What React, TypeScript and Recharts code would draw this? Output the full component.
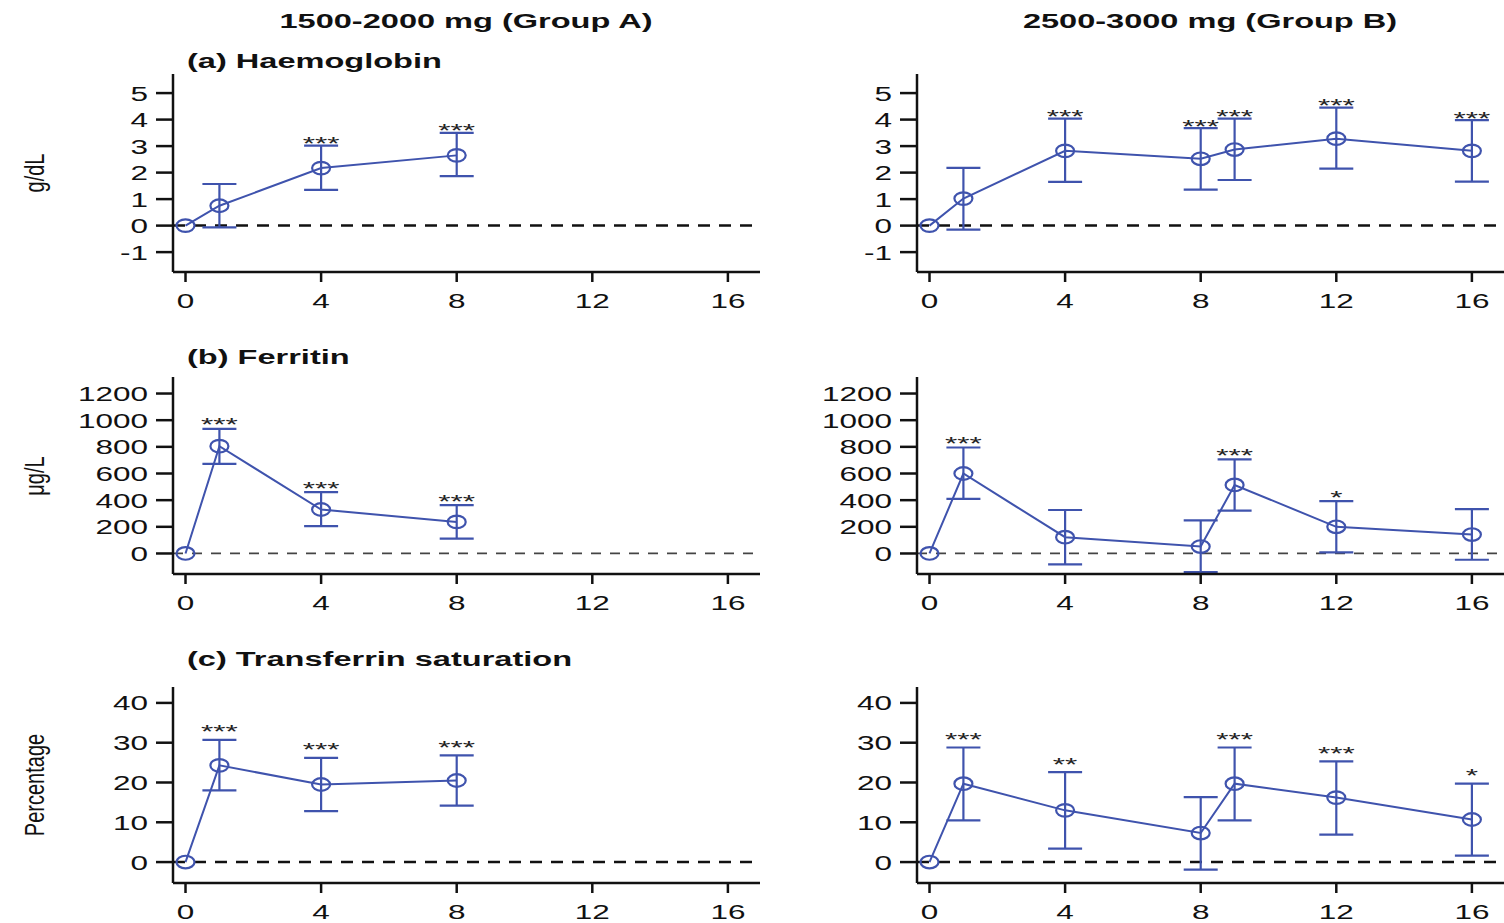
import React from "react";
import { ComposedChart, Line, XAxis, YAxis, ErrorBar, ReferenceLine } from "recharts";

// weeks after infusion
const WEEKS_A = [0, 1, 4, 8];
const WEEKS_B = [0, 1, 4, 8, 9, 12, 16];
const X_TICKS = [0, 4, 8, 12, 16];

const HB_TICKS = [-1, 0, 1, 2, 3, 4, 5];
const FER_TICKS = [0, 200, 400, 600, 800, 1000, 1200];
const TSAT_TICKS = [0, 10, 20, 30, 40];

// (a) Haemoglobin, change from baseline (g/dL)
const HB_A_MEAN = [0, 0.75, 2.17, 2.65];
const HB_A_LO = [null, -0.07, 1.35, 1.87];
const HB_A_HI = [null, 1.57, 3.02, 3.5];
const HB_A_SIG = ["", "", "***", "***"];

const HB_B_MEAN = [0, 1.02, 2.82, 2.52, 2.87, 3.28, 2.82];
const HB_B_LO = [null, -0.15, 1.65, 1.36, 1.72, 2.15, 1.66];
const HB_B_HI = [null, 2.18, 4.04, 3.68, 4.04, 4.45, 3.98];
const HB_B_SIG = ["", "", "***", "***", "***", "***", "***"];

// (b) Ferritin (µg/L)
const FER_A_MEAN = [0, 805, 330, 237];
const FER_A_LO = [null, 672, 205, 112];
const FER_A_HI = [null, 935, 460, 362];
const FER_A_SIG = ["", "***", "***", "***"];

const FER_B_MEAN = [0, 600, 122, 52, 514, 200, 142];
const FER_B_LO = [null, 410, -82, -140, 322, 8, -47];
const FER_B_HI = [null, 795, 326, 248, 706, 393, 333];
const FER_B_SIG = ["", "***", "", "", "***", "*", ""];

// (c) Transferrin saturation (%)
const TSAT_A_MEAN = [0, 24.3, 19.5, 20.5];
const TSAT_A_LO = [null, 18.0, 12.8, 14.2];
const TSAT_A_HI = [null, 30.7, 26.2, 26.8];
const TSAT_A_SIG = ["", "***", "***", "***"];

const TSAT_B_MEAN = [0, 19.7, 13.0, 7.3, 19.7, 16.2, 10.7];
const TSAT_B_LO = [null, 10.5, 3.4, -1.9, 10.5, 6.9, 1.6];
const TSAT_B_HI = [null, 28.8, 22.6, 16.3, 28.8, 25.3, 19.7];
const TSAT_B_SIG = ["", "***", "**", "", "***", "***", "*"];

const BLUE = "#3f53ad";
const INK = "#111";
const FONT = "Arial, 'Liberation Sans', Helvetica, sans-serif";
const SX = 1.5; // the source figure is stretched sideways
const Y_W = 60;
const MT = 40;
const XH = 45;
const X_DOMAIN: [number, number] = [-0.369, 16.947];

function rows(weeks, mean, lo, hi, sig) {
  return weeks.map((w, i) => ({
    w,
    mean: mean[i],
    err: lo[i] == null ? null : [mean[i] - lo[i], hi[i] - mean[i]],
    hi: hi[i],
    sig: sig[i],
  }));
}

function WText({ x, y, anchor = "middle", size = 21, weight = 400, fill = INK, sx = SX, rotate = 0, children }: any) {
  const rot = rotate ? ` rotate(${rotate})` : "";
  return (
    <text
      transform={`translate(${x} ${y}) scale(${sx} 1)${rot}`}
      textAnchor={anchor}
      fontSize={size}
      fontWeight={weight}
      fontFamily={FONT}
      fill={fill}
    >
      {children}
    </text>
  );
}

const COLS = [
  { left: 0, width: 760, plotLeft: 173 },
  { left: 760, width: 744, plotLeft: 917 },
];

const ROWS = [
  { plotTop: 74, plotBottom: 272, domain: [-1.75, 5.72], ticks: HB_TICKS, dash: "12 9", dashW: 2.5, dashC: INK, starShift: 4.5 },
  { plotTop: 377, plotBottom: 574, domain: [-154, 1324], ticks: FER_TICKS, dash: "10 9", dashW: 1.8, dashC: "#444", starShift: 2.5 },
  { plotTop: 687, plotBottom: 883, domain: [-5.26, 44.0], ticks: TSAT_TICKS, dash: "12 9", dashW: 2.5, dashC: INK, starShift: -1.5 },
];

const DATA = [
  [rows(WEEKS_A, HB_A_MEAN, HB_A_LO, HB_A_HI, HB_A_SIG), rows(WEEKS_B, HB_B_MEAN, HB_B_LO, HB_B_HI, HB_B_SIG)],
  [rows(WEEKS_A, FER_A_MEAN, FER_A_LO, FER_A_HI, FER_A_SIG), rows(WEEKS_B, FER_B_MEAN, FER_B_LO, FER_B_HI, FER_B_SIG)],
  [rows(WEEKS_A, TSAT_A_MEAN, TSAT_A_LO, TSAT_A_HI, TSAT_A_SIG), rows(WEEKS_B, TSAT_B_MEAN, TSAT_B_LO, TSAT_B_HI, TSAT_B_SIG)],
];

function Panel({ row, col, data }: any) {
  const r = ROWS[row];
  const c = COLS[col];
  const height = r.plotBottom - r.plotTop + MT + XH;
  const mLeft = c.plotLeft - c.left - Y_W;
  const xBase = MT + (r.plotBottom - r.plotTop) + 36;
  const yRight = mLeft + Y_W - 25;

  const marker = (p: any) => {
    if (p.cy == null) return <g key={`m${p.index}`} />;
    return <ellipse key={`m${p.index}`} cx={p.cx} cy={p.cy} rx={9} ry={6.3} fill="none" stroke={BLUE} strokeWidth={2.2} />;
  };
  const stars = (p: any) => {
    if (p.cy == null || !p.payload.sig) return <g key={`s${p.index}`} />;
    return (
      <WText key={`s${p.index}`} x={p.cx} y={p.cy + r.starShift} size={18} sx={1.75} fill="#222">
        {p.payload.sig}
      </WText>
    );
  };

  return (
    <div style={{ position: "absolute", left: c.left, top: r.plotTop - MT }}>
      <ComposedChart width={c.width} height={height} data={data} margin={{ top: MT, right: 0, bottom: 0, left: mLeft }}>
        <XAxis
          dataKey="w"
          type="number"
          domain={X_DOMAIN}
          ticks={X_TICKS}
          interval={0}
          allowDataOverflow
          height={XH}
          axisLine={{ stroke: INK, strokeWidth: 2.5 }}
          tickLine={{ stroke: INK, strokeWidth: 2.5 }}
          tickSize={10}
          tick={(p: any) => (
            <WText key={`x${p.index}`} x={p.x} y={xBase}>
              {p.payload.value}
            </WText>
          )}
        />
        <YAxis
          type="number"
          domain={r.domain}
          ticks={r.ticks}
          interval={0}
          allowDataOverflow
          width={Y_W}
          axisLine={{ stroke: INK, strokeWidth: 2.5 }}
          tickLine={{ stroke: INK, strokeWidth: 2.5 }}
          tickSize={17}
          tick={(p: any) => (
            <WText key={`y${p.index}`} x={yRight} y={p.y + 7.5} anchor="end">
              {p.payload.value}
            </WText>
          )}
        />
        <ReferenceLine y={0} stroke={r.dashC} strokeWidth={r.dashW} strokeDasharray={r.dash} />
        <Line
          type="linear"
          dataKey="mean"
          stroke={BLUE}
          strokeWidth={2}
          dot={marker}
          activeDot={false}
          isAnimationActive={false}
        >
          <ErrorBar dataKey="err" direction="y" width={17} stroke={BLUE} strokeWidth={2.2} />
        </Line>
        <Line
          type="linear"
          dataKey="hi"
          stroke="none"
          dot={stars}
          activeDot={false}
          isAnimationActive={false}
        />
      </ComposedChart>
    </div>
  );
}

export default function App() {
  return (
    <div style={{ position: "absolute", left: 0, top: 0, width: 1504, height: 923, background: "#fff", overflow: "hidden" }}>
      {[0, 1, 2].map((row) =>
        [0, 1].map((col) => <Panel key={`${row}-${col}`} row={row} col={col} data={DATA[row][col]} />)
      )}
      <svg width={1504} height={923} style={{ position: "absolute", left: 0, top: 0, pointerEvents: "none" }}>
        <WText x={466} y={28} weight={700} sx={1.55}>1500-2000 mg (Group A)</WText>
        <WText x={1210} y={28} weight={700} sx={1.55}>2500-3000 mg (Group B)</WText>
        <WText x={187} y={68} anchor="start" weight={700} sx={1.55}>(a) Haemoglobin</WText>
        <WText x={187} y={364} anchor="start" weight={700} sx={1.55}>(b) Ferritin</WText>
        <WText x={187} y={666} anchor="start" weight={700} sx={1.55}>(c) Transferrin saturation</WText>
        <WText x={44} y={173} size={20} sx={1.4} rotate={-90}>g/dL</WText>
        <WText x={44} y={476} size={20} sx={1.4} rotate={-90}>μg/L</WText>
        <WText x={44} y={785} size={20} sx={1.4} rotate={-90}>Percentage</WText>
      </svg>
    </div>
  );
}
